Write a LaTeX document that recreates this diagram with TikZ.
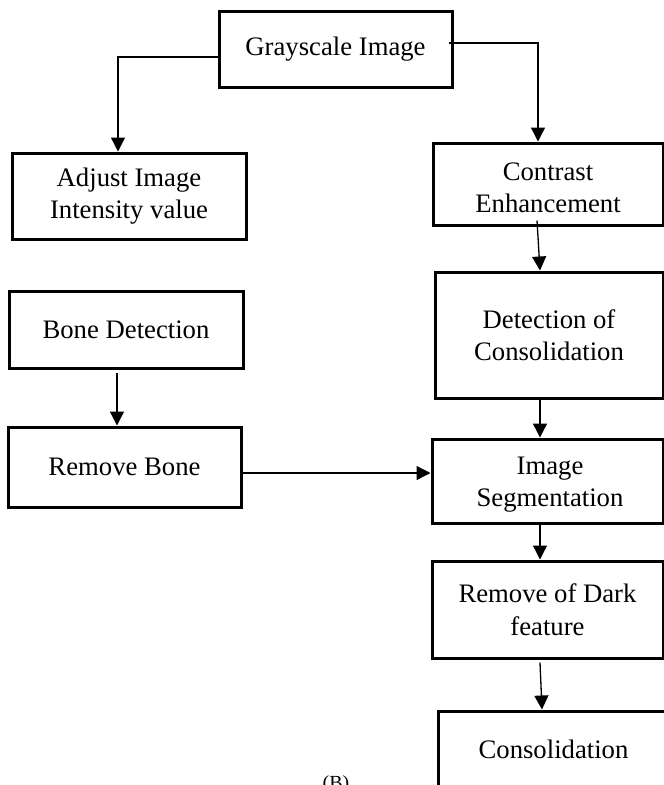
\documentclass[tikz,border=0pt]{standalone}
\usepackage{fontspec}
\setmainfont{Liberation Serif}
\usetikzlibrary{arrows.meta}
\begin{document}
\begin{tikzpicture}[x=1pt,y=1pt,
  box/.style={draw, line width=3pt, fill=white, inner sep=0pt, align=center,
    font=\fontsize{26.7}{32.5}\selectfont},
  txt/.style={inner sep=0pt, align=center, font=\fontsize{26.7}{32.5}\selectfont},
  arr/.style={line width=1.3pt, -{Triangle[length=14pt,width=14pt]}}]
\useasboundingbox (0,0) rectangle (664,-785);
\clip (0,0) rectangle (664,-785);

% boxes
\node[box, minimum width=233pt, minimum height=76pt] (gray) at (335.5,-49) {Grayscale Image};
\node[box, minimum width=234pt, minimum height=86pt] (adjust) at (129,-196) {Adjust Image\\Intensity value};
\node[box, minimum width=230pt, minimum height=82pt] (contrast) at (548,-184) {};
\node[txt] (contrasttext) at (548,-188) {Contrast\\Enhancement};
\node[box, minimum width=228pt, minimum height=126pt] (detect) at (549,-335) {Detection of\\Consolidation};
\node[box, minimum width=234pt, minimum height=77pt] (bone) at (126,-329.5) {Bone Detection};
\node[box, minimum width=233pt, minimum height=80pt] (rbone) at (124.5,-467) {Remove Bone};
\node[box, minimum width=231pt, minimum height=84pt] (seg) at (547.5,-481) {};
\begin{scope}
  \clip (432,-440) rectangle (663,-512);
  \node[txt] (segtext) at (550,-484.5) {Image\\Segmentation};
\end{scope}
\node[box, minimum width=231pt, minimum height=97pt] (rdark) at (547.5,-609.5) {Remove of Dark\\feature};
\node[box, minimum width=231pt, minimum height=76pt] (cons) at (553.5,-749) {Consolidation};

\node[font=\fontsize{20}{24}\selectfont, anchor=base, inner sep=0pt] (blabel) at (336,-789) {(B)};

% connectors
\draw[arr] ([yshift=-8pt]gray.west) -| ([xshift=-11pt]adjust.north);
\draw[arr] ([xshift=-5pt,yshift=6pt]gray.east) -| ([xshift=-10pt]contrast.north);
\draw[arr] ([xshift=-11pt,yshift=6pt]contrast.south) -- ([xshift=-9pt]detect.north);
\draw[arr] ([xshift=-9pt]detect.south) -- ([xshift=-7.5pt]seg.north);
\draw[arr] ([xshift=-9pt,yshift=-3pt]bone.south) -- ([xshift=-7.5pt]rbone.north);
\draw[arr] ([yshift=-6pt]rbone.east) -- ([yshift=8pt]seg.west);
\draw[arr] ([xshift=-7.5pt]seg.south) -- ([xshift=-7.5pt]rdark.north);
\draw[arr] ([xshift=-7.5pt,yshift=-3pt]rdark.south) -- ([xshift=-11.5pt]cons.north);
\end{tikzpicture}
\end{document}
